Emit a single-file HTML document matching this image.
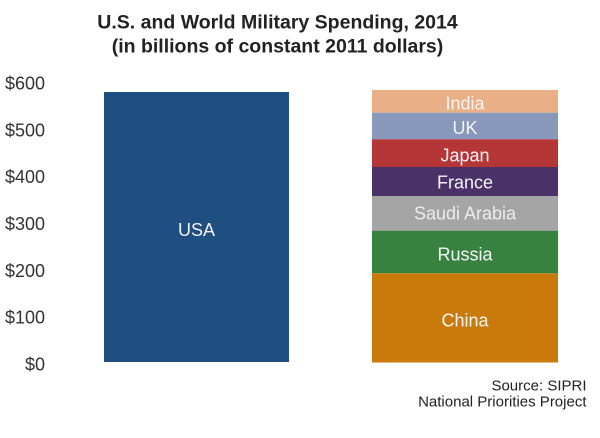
<!DOCTYPE html>
<html>
<head>
<meta charset="utf-8">
<style>
  html, body { margin:0; padding:0; background:#ffffff; }
  body { width:600px; height:438px; overflow:hidden; }
  svg { display:block; }
  text { font-family: "Liberation Sans", Arial, sans-serif; }
</style>
</head>
<body>
<svg width="600" height="438" viewBox="0 0 600 438" xmlns="http://www.w3.org/2000/svg">
  <rect x="0" y="0" width="600" height="438" fill="#ffffff"/>

  <!-- Title -->
  <text x="277.5" y="28.5" text-anchor="middle" font-size="19.5" font-weight="bold" fill="#222222">U.S. and World Military Spending, 2014</text>
  <text x="277.5" y="52.5" text-anchor="middle" font-size="19.5" font-weight="bold" fill="#222222">(in billions of constant 2011 dollars)</text>

  <!-- Y axis labels -->
  <g font-size="18" fill="#333333" text-anchor="end">
    <text x="45" y="89.5">$600</text>
    <text x="45" y="136.3">$500</text>
    <text x="45" y="183.2">$400</text>
    <text x="45" y="230">$300</text>
    <text x="45" y="276.8">$200</text>
    <text x="45" y="323.7">$100</text>
    <text x="45" y="370.5">$0</text>
  </g>

  <!-- USA bar -->
  <rect x="104" y="92" width="185" height="270" fill="#1f4e80"/>
  <text x="196.5" y="236" text-anchor="middle" font-size="18" fill="#f2f2f2">USA</text>

  <!-- Stacked bar -->
  <rect x="372" y="90" width="186" height="22.7" fill="#e9b087"/>
  <rect x="372" y="112.7" width="186" height="26.6" fill="#8898ba"/>
  <rect x="372" y="139.3" width="186" height="27.7" fill="#b53637"/>
  <rect x="372" y="167" width="186" height="29" fill="#4a3168"/>
  <rect x="372" y="196" width="186" height="34.7" fill="#a5a5a5"/>
  <rect x="372" y="230.7" width="186" height="42.6" fill="#388241"/>
  <rect x="372" y="273.3" width="186" height="89.2" fill="#c97a0b"/>

  <g font-size="18" text-anchor="middle" fill="#f4f4f4">
    <text x="465" y="109.3">India</text>
    <text x="465" y="134">UK</text>
    <text x="465" y="161.7">Japan</text>
    <text x="465" y="188.3">France</text>
    <text x="465" y="219.3" fill="#ececec">Saudi Arabia</text>
    <text x="465" y="260.7">Russia</text>
    <text x="465" y="326.7">China</text>
  </g>

  <!-- Source -->
  <g font-size="15" fill="#222222" text-anchor="end">
    <text x="586.5" y="390.7">Source: SIPRI</text>
    <text x="586.5" y="406.7">National Priorities Project</text>
  </g>
</svg>
</body>
</html>
